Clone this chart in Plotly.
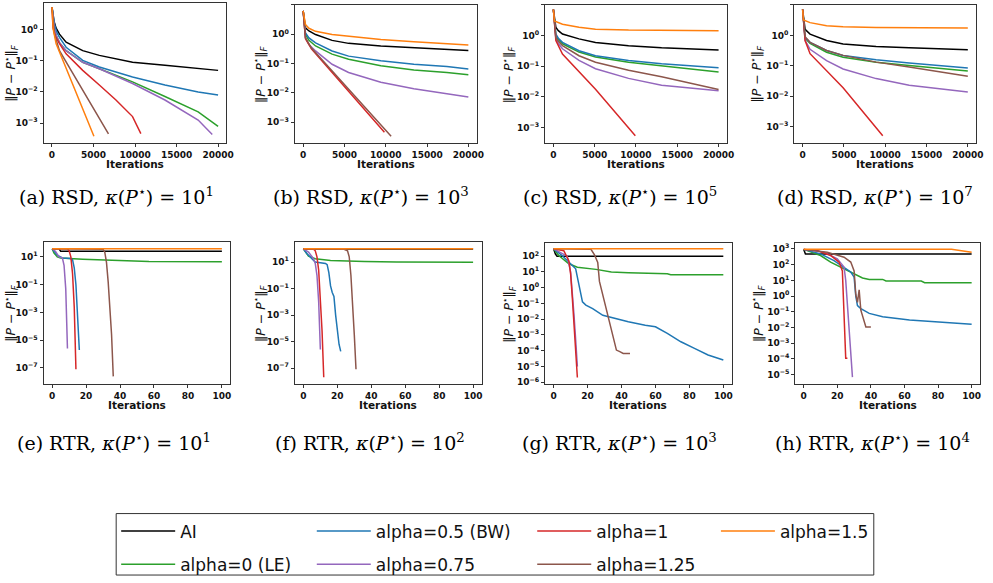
"""Convergence of RSD / RTR for several alpha values (8 panels, shared legend)."""

import plotly.graph_objects as go

W, H = 993, 583

SERIES = ["AI", "alpha=0 (LE)", "alpha=0.5 (BW)", "alpha=0.75", "alpha=1", "alpha=1.25", "alpha=1.5"]
COLORS = ["#000000", "#2ca02c", "#1f77b4", "#9467bd", "#d62728", "#8c564b", "#ff7f0e"]
# matplotlib legend with ncol=4 fills column-wise -> one plotly legend per column
LEGEND_OF = ["legend", "legend", "legend2", "legend2", "legend3", "legend3", "legend4"]

# ---- RSD panels (x = iterations) ----
PANEL_A = {
    "AI": ([0, 240, 500, 900, 1700, 3700, 5700, 9700, 13600, 17600, 20000],
           [5.2, 1.86, 1.1, 0.71, 0.39, 0.21, 0.148, 0.089, 0.071, 0.055, 0.049]),
    "alpha=0 (LE)": ([0, 300, 550, 900, 1700, 3700, 5700, 7700, 9700, 13600, 17600, 20000],
                     [5.2, 1.02, 0.6, 0.38, 0.21, 0.089, 0.055, 0.034, 0.021, 0.0071, 0.0023, 0.00079]),
    "alpha=0.5 (BW)": ([0, 300, 550, 900, 1700, 3700, 5700, 9700, 13600, 17600, 20000],
                       [5.2, 1.48, 0.85, 0.56, 0.27, 0.102, 0.063, 0.030, 0.0166, 0.010, 0.0079]),
    "alpha=0.75": ([0, 300, 550, 900, 1700, 3700, 5700, 9700, 13600, 17600, 19300],
                   [5.2, 1.02, 0.6, 0.38, 0.21, 0.089, 0.055, 0.0186, 0.0055, 0.00126, 0.00043]),
    "alpha=1": ([0, 120, 400, 900, 1700, 3700, 5700, 7700, 9700, 10700],
                [5.2, 1.15, 0.62, 0.35, 0.166, 0.049, 0.0166, 0.0055, 0.00162, 0.00046]),
    "alpha=1.25": ([0, 300, 900, 2300, 3700, 5200, 6800],
                   [5.2, 0.71, 0.21, 0.049, 0.0112, 0.00234, 0.00045]),
    "alpha=1.5": ([0, 150, 500, 1700, 3700, 5050],
                  [5.2, 1.0, 0.35, 0.058, 0.0029, 0.00038]),
}

PANEL_B = {
    "AI": ([0, 280, 700, 1500, 3500, 5500, 9400, 13400, 20000],
           [6.3, 1.66, 1.3, 0.98, 0.62, 0.49, 0.40, 0.35, 0.28]),
    "alpha=0 (LE)": ([0, 280, 700, 1500, 3500, 5500, 9400, 13400, 17400, 20000],
                     [6.3, 0.98, 0.62, 0.40, 0.21, 0.141, 0.085, 0.060, 0.050, 0.042]),
    "alpha=0.5 (BW)": ([0, 280, 700, 1500, 3500, 5500, 9400, 13400, 17400, 20000],
                       [6.3, 1.12, 0.75, 0.51, 0.27, 0.18, 0.126, 0.095, 0.079, 0.066]),
    "alpha=0.75": ([0, 280, 700, 1500, 3500, 5500, 9400, 13400, 17400, 20000],
                   [6.3, 0.76, 0.45, 0.27, 0.095, 0.050, 0.023, 0.0138, 0.0093, 0.0072]),
    "alpha=1": ([0, 280, 1000, 9840],
                [6.3, 0.71, 0.32, 0.00046]),
    "alpha=1.25": ([0, 280, 1000, 10650],
                   [6.3, 0.76, 0.34, 0.00033]),
    "alpha=1.5": ([0, 280, 700, 1500, 3500, 5500, 9400, 13400, 17400, 20000],
                  [6.3, 2.14, 1.6, 1.26, 0.98, 0.87, 0.66, 0.56, 0.49, 0.43]),
}

PANEL_C = {
    "AI": ([0, 300, 600, 1100, 3100, 5100, 9100, 13100, 20000],
           [7.1, 1.86, 1.45, 1.12, 0.78, 0.60, 0.47, 0.40, 0.34]),
    "alpha=0 (LE)": ([0, 300, 600, 1100, 3100, 5100, 9100, 13100, 20000],
                     [7.1, 1.0, 0.75, 0.54, 0.29, 0.20, 0.135, 0.102, 0.065]),
    "alpha=0.5 (BW)": ([0, 300, 600, 1100, 3100, 5100, 9100, 13100, 20000],
                       [7.1, 1.12, 0.82, 0.60, 0.32, 0.22, 0.155, 0.120, 0.089]),
    "alpha=0.75": ([0, 300, 600, 1100, 3100, 5100, 9100, 13100, 20000],
                   [7.1, 0.78, 0.55, 0.37, 0.155, 0.083, 0.040, 0.024, 0.0158]),
    "alpha=1": ([0, 300, 1100, 5100, 9920],
                [7.1, 0.69, 0.25, 0.0178, 0.00054]),
    "alpha=1.25": ([0, 300, 600, 1100, 3100, 5100, 9100, 13100, 20000],
                   [7.1, 0.87, 0.65, 0.47, 0.22, 0.135, 0.074, 0.045, 0.0174]),
    "alpha=1.5": ([0, 120, 1100, 3100, 5100, 9100, 20000],
                  [7.1, 3.0, 2.34, 1.86, 1.62, 1.51, 1.45]),
}

PANEL_D = {
    "AI": ([0, 300, 900, 2900, 4900, 8900, 12900, 20000],
           [7.1, 1.58, 1.10, 0.68, 0.52, 0.43, 0.39, 0.34]),
    "alpha=0 (LE)": ([0, 300, 900, 2900, 4900, 8900, 12900, 20000],
                     [7.1, 0.81, 0.55, 0.28, 0.19, 0.132, 0.102, 0.068]),
    "alpha=0.5 (BW)": ([0, 300, 900, 2900, 4900, 8900, 12900, 20000],
                       [7.1, 0.85, 0.59, 0.32, 0.22, 0.158, 0.123, 0.085]),
    "alpha=0.75": ([0, 300, 900, 2900, 4900, 8900, 12900, 20000],
                   [7.1, 0.68, 0.35, 0.148, 0.079, 0.038, 0.023, 0.0138]),
    "alpha=1": ([0, 300, 900, 4900, 9700],
                [7.1, 0.68, 0.25, 0.019, 0.0005]),
    "alpha=1.25": ([0, 300, 900, 2900, 4900, 8900, 12900, 20000],
                   [7.1, 0.91, 0.59, 0.32, 0.22, 0.132, 0.091, 0.045]),
    "alpha=1.5": ([0, 100, 900, 2900, 4900, 8900, 20000],
                  [7.1, 3.2, 2.63, 2.09, 1.91, 1.82, 1.74]),
}

# ---- RTR panels (x = iterations) ----
PANEL_E = {
    "AI": ([0, 4, 5, 100], [38, 38, 26, 26]),
    "alpha=0 (LE)": ([0, 1, 3, 5, 18, 37, 57, 100],
                     [39, 20, 10, 8.5, 6.9, 5.8, 4.7, 4.4]),
    "alpha=0.5 (BW)": ([0, 3, 6, 11, 12, 13, 14, 15, 16],
                       [39, 13.2, 8.5, 7.6, 6.3, 1.6, 0.1, 0.001, 2e-6]),
    "alpha=0.75": ([0, 2, 4, 6, 7, 8, 9],
                   [39, 25, 10, 8.5, 2.5, 0.05, 2.5e-6]),
    "alpha=1": ([0, 9, 10, 11, 12, 13, 14],
                [39, 38, 28, 10, 0.63, 0.0025, 8e-8]),
    "alpha=1.25": ([0, 30, 31, 32, 33, 34, 35, 36],
                   [39, 35, 22, 4, 0.16, 0.0032, 2.5e-5, 2.5e-8]),
    "alpha=1.5": ([0, 100], [38, 38]),
}

PANEL_F = {
    "AI": ([0, 1, 100], [100, 96, 96]),
    "alpha=0 (LE)": ([0, 2, 3, 7, 16, 36, 55, 100],
                     [100, 42, 28, 17.8, 13.2, 11.2, 10, 9.5]),
    "alpha=0.5 (BW)": ([0, 2, 5, 7, 13, 14, 15, 16, 17, 18, 19, 20, 21, 22],
                       [100, 45, 17.8, 10, 7.9, 6.3, 1.58, 0.158, 0.05, 0.025, 0.001, 6.3e-5, 6.3e-6, 1.8e-6]),
    "alpha=0.75": ([0, 3, 6, 7, 8, 9, 10],
                   [100, 56, 17.8, 7.9, 1.0, 0.01, 2.5e-6]),
    "alpha=1": ([0, 6, 7, 8, 9, 10, 11, 12],
                [100, 95, 71, 25, 2.5, 0.032, 6.3e-5, 2e-8]),
    "alpha=1.25": ([0, 24, 26, 27, 28, 29, 30, 31],
                   [100, 93, 71, 25, 1.0, 0.01, 3.2e-5, 8e-8]),
    "alpha=1.5": ([0, 100], [100, 100]),
}

PANEL_G = {
    "AI": ([0, 1, 2, 100], [290, 141, 100, 100]),
    "alpha=0 (LE)": ([0, 3, 9, 14, 25, 34, 44, 67, 69, 100],
                     [290, 110, 33, 20, 14.5, 9.8, 8.9, 7.6, 6.6, 6.6]),
    "alpha=0.5 (BW)": ([0, 5, 10, 13, 15, 17, 19, 23, 29, 36, 44, 54, 60, 67, 75, 83, 91, 100],
                       [290, 110, 33, 15.8, 1.41, 0.126, 0.079, 0.047, 0.0178, 0.011, 0.0068,
                        0.0042, 0.0033, 0.00126, 0.00037, 0.000141, 5.4e-5, 2.6e-5]),
    "alpha=0.75": ([0, 8, 10, 11, 12, 13, 14],
                   [290, 100, 10, 0.63, 0.02, 5e-4, 1e-5]),
    "alpha=1": ([0, 6, 9, 10, 11, 12, 13, 14],
                [290, 220, 50, 7.9, 0.25, 0.0063, 1.26e-4, 2e-6]),
    "alpha=1.25": ([0, 22, 24, 26, 27, 29, 31, 33, 35, 36, 37, 39, 41, 45],
                   [290, 275, 126, 40, 2.5, 0.32, 0.04, 0.005, 0.001, 3.2e-4, 1.1e-4, 8.7e-5, 6.8e-5, 6.8e-5]),
    "alpha=1.5": ([0, 100], [290, 290]),
}

PANEL_H = {
    "AI": ([0, 1, 100], [930, 480, 480]),
    "alpha=0 (LE)": ([0, 10, 16, 22, 28, 31, 35, 39, 47, 49, 70, 72, 100],
                     [930, 380, 145, 69, 34, 21, 14.1, 11.5, 11.5, 9.1, 9.1, 7.1, 7.1]),
    "alpha=0.5 (BW)": ([0, 10, 18, 24, 28, 30, 31, 32, 34, 39, 47, 63, 82, 100],
                       [930, 480, 182, 69, 34, 15.8, 1.0, 0.25, 0.16, 0.079, 0.048, 0.030, 0.021, 0.016]),
    "alpha=0.75": ([0, 12, 20, 24, 25, 26, 27, 28, 29],
                   [930, 620, 234, 69, 10, 0.32, 0.01, 3.2e-4, 7e-6]),
    "alpha=1": ([0, 8, 16, 21, 23, 24, 25, 26],
                [930, 790, 380, 145, 40, 0.126, 1.1e-4, 1.1e-4]),
    "alpha=1.25": ([0, 14, 24, 28, 30, 31, 32, 33, 34, 35, 36, 37, 40],
                   [930, 620, 295, 145, 40, 1.26, 0.4, 2.5, 0.126, 0.05, 0.025, 0.011, 0.011]),
    "alpha=1.5": ([0, 88, 100], [950, 950, 620]),
}

PANELS = [PANEL_A, PANEL_B, PANEL_C, PANEL_D, PANEL_E, PANEL_F, PANEL_G, PANEL_H]

CAPTIONS = [
    "(a) RSD, <i>κ</i>(<i>P</i><sup>⋆</sup>) = 10<sup>1</sup>",
    "(b) RSD, <i>κ</i>(<i>P</i><sup>⋆</sup>) = 10<sup>3</sup>",
    "(c) RSD, <i>κ</i>(<i>P</i><sup>⋆</sup>) = 10<sup>5</sup>",
    "(d) RSD, <i>κ</i>(<i>P</i><sup>⋆</sup>) = 10<sup>7</sup>",
    "(e) RTR, <i>κ</i>(<i>P</i><sup>⋆</sup>) = 10<sup>1</sup>",
    "(f) RTR, <i>κ</i>(<i>P</i><sup>⋆</sup>) = 10<sup>2</sup>",
    "(g) RTR, <i>κ</i>(<i>P</i><sup>⋆</sup>) = 10<sup>3</sup>",
    "(h) RTR, <i>κ</i>(<i>P</i><sup>⋆</sup>) = 10<sup>4</sup>",
]

# y tick exponents per panel
Y_EXPONENTS = [
    [0, -1, -2, -3],
    [1, 0, -1, -2, -3],
    [1, 0, -1, -2, -3],
    [1, 0, -1, -2, -3],
    [1, -1, -3, -5, -7],
    [1, -1, -3, -5, -7],
    [2, 1, 0, -1, -2, -3, -4, -5, -6],
    [3, 2, 1, 0, -1, -2, -3, -4, -5],
]
RSD_XTICKS = [0, 5000, 10000, 15000, 20000]
RTR_XTICKS = [0, 20, 40, 60, 80, 100]

# ---- layout geometry (pixels of the 993x583 page) ----
BOXES = [  # x0, x1, y0(top), y1(bottom)
    (44, 228, 2, 143), (297, 480, 4, 143), (549, 732, 4, 143), (800, 983, 4, 143),
    (44, 232, 243, 386), (297, 485, 243, 386), (549, 737, 244, 386), (801, 987, 244, 386),
]
Y_RANGES = [
    [-3.63, 0.85], [-3.70, 1.0], [-3.50, 1.0], [-3.53, 1.0],
    [-8.13, 2.08], [-8.18, 2.52], [-6.09, 2.84], [-5.57, 3.38],
]
RSD_XRANGE = [-1000, 21000]
RTR_XRANGE = [-5, 105]
YTITLE_X = [11, 262, 512, 762, 11, 262, 513, 764]
CAPTION_X = [117, 374, 624, 881, 115, 373, 624, 879]
CAPTION_Y = [197, 445]
XTITLE_Y = [164, 407]


def px(x):
    return x / W


def py(y):
    return 1 - y / H


def sup_label(e):
    sign = "−" if e < 0 else ""
    return f"10<sup>{sign}{abs(e)}</sup>"


fig = go.Figure()

for i, panel in enumerate(PANELS):
    suffix = "" if i == 0 else str(i + 1)
    for name, color, leg in zip(SERIES, COLORS, LEGEND_OF):
        xs, ys = panel[name]
        fig.add_trace(
            go.Scatter(
                x=xs,
                y=ys,
                mode="lines",
                name=name,
                line=dict(color=color, width=1.5),
                xaxis="x" + suffix,
                yaxis="y" + suffix,
                legendgroup=name,
                showlegend=(i == 0),
                legend=leg,
            )
        )

axis_common = dict(
    showline=True,
    mirror=True,
    linecolor="#333333",
    linewidth=1.3,
    ticks="outside",
    ticklen=3,
    tickwidth=1,
    tickcolor="#333333",
    showgrid=False,
    zeroline=False,
    tickfont=dict(family="DejaVu Sans", size=9, color="#111111", weight="bold"),
)

layout = {}
annotations = []
for i in range(8):
    suffix = "" if i == 0 else str(i + 1)
    x0, x1, y0, y1 = BOXES[i]
    rsd = i < 4
    xticks = RSD_XTICKS if rsd else RTR_XTICKS
    exps = Y_EXPONENTS[i]
    layout["xaxis" + suffix] = dict(
        domain=[px(x0), px(x1)],
        anchor="y" + suffix,
        range=RSD_XRANGE if rsd else RTR_XRANGE,
        tickvals=xticks,
        ticktext=[str(t) for t in xticks],
        **axis_common,
    )
    layout["yaxis" + suffix] = dict(
        domain=[py(y1), py(y0)],
        anchor="x" + suffix,
        type="log",
        range=Y_RANGES[i],
        tickvals=[10.0 ** e for e in exps],
        ticktext=[sup_label(e) for e in exps],
        **axis_common,
    )
    row = 0 if rsd else 1
    # axis titles
    annotations.append(dict(
        text="Iterations", xref="paper", yref="paper",
        x=px((x0 + x1) / 2), y=py(XTITLE_Y[row]), showarrow=False,
        xanchor="center", yanchor="middle",
        font=dict(family="DejaVu Sans", size=10.5, color="#111111", weight="bold"),
    ))
    annotations.append(dict(
        text="‖<i>P</i> − <i>P</i><sup>⋆</sup>‖<sub><i>F</i></sub>",
        xref="paper", yref="paper", textangle=-90,
        x=px(YTITLE_X[i]), y=py((y0 + y1) / 2), showarrow=False,
        xanchor="center", yanchor="middle",
        font=dict(family="DejaVu Sans", size=12.5, color="#111111"),
    ))
    # sub-figure caption
    annotations.append(dict(
        text=CAPTIONS[i], xref="paper", yref="paper",
        x=px(CAPTION_X[i]), y=py(CAPTION_Y[row]), showarrow=False,
        xanchor="center", yanchor="middle",
        font=dict(family="DejaVu Serif", size=19, color="#000000"),
    ))

legend_common = dict(
    font=dict(family="DejaVu Sans", size=17, color="#111111"),
    itemwidth=54,
    traceorder="grouped",
    tracegroupgap=8,
    bgcolor="rgba(0,0,0,0)",
    borderwidth=0,
    orientation="v",
    xanchor="left",
    yanchor="top",
)
LEGEND_COL_X = [117, 314, 536, 721]
for k, lx in enumerate(LEGEND_COL_X):
    key = "legend" if k == 0 else f"legend{k + 1}"
    layout[key] = dict(x=px(lx), y=py(517), **legend_common)

fig.update_layout(
    width=W,
    height=H,
    margin=dict(l=0, r=0, t=0, b=0),
    paper_bgcolor="white",
    plot_bgcolor="white",
    annotations=annotations,
    shapes=[dict(
        type="rect", xref="paper", yref="paper",
        x0=px(117), x1=px(880), y0=py(579), y1=py(517),
        line=dict(color="#333333", width=1), fillcolor="rgba(0,0,0,0)",
    )],
    **layout,
)

# drop the default 8px body margin so the figure fills the window exactly
fig.write_html(
    "out.html",
    config={"displayModeBar": False},
    post_script="document.body.style.margin = '0';",
)
